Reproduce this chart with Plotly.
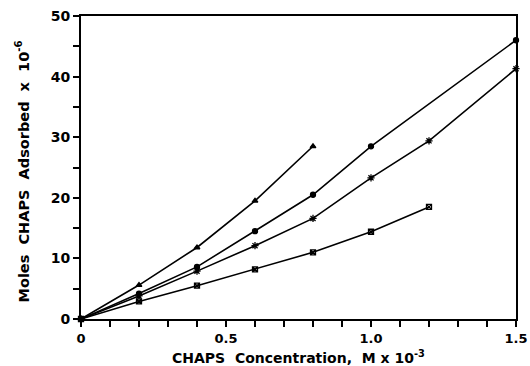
import plotly.graph_objects as go

tri_x = [0, 0.2, 0.4, 0.6, 0.8]
tri_y = [0, 5.6, 11.8, 19.5, 28.5]
cir_x = [0, 0.2, 0.4, 0.6, 0.8, 1.0, 1.5]
cir_y = [0, 4.2, 8.6, 14.5, 20.5, 28.5, 46.0]
plus_x = [0, 0.2, 0.4, 0.6, 0.8, 1.0, 1.2, 1.5]
plus_y = [0, 3.8, 7.9, 12.1, 16.6, 23.3, 29.4, 41.3]
sq_x = [0, 0.2, 0.4, 0.6, 0.8, 1.0, 1.2]
sq_y = [0, 2.9, 5.5, 8.2, 11.0, 14.4, 18.5]

x_tickvals = [0, 0.5, 1.0, 1.5]
x_ticktext = ["0", "0.5", "1.0", "1.5"]
y_tickvals = [0, 10, 20, 30, 40, 50]
y_ticktext = ["0", "10", "20", "30", "40", "50"]
x_title = "CHAPS  Concentration,  M x 10<sup>-3</sup>"
y_title = "Moles  CHAPS  Adsorbed  x  10<sup>-6</sup>"

fig = go.Figure()
series = [
    (tri_x, tri_y, "triangle-up", 5),
    (cir_x, cir_y, "circle", 5),
    (plus_x, plus_y, "asterisk-open", 6),
    (sq_x, sq_y, "square-x-open", 5),
]
for xs, ys, sym, sz in series:
    fig.add_trace(go.Scatter(
        x=xs, y=ys, mode="lines+markers",
        line=dict(color="black", width=1.6),
        marker=dict(symbol=sym, size=sz, color="black", line=dict(color="black", width=1.3)),
        cliponaxis=False, showlegend=False,
    ))

fam = "DejaVu Sans"
fig.update_layout(
    width=530, height=366,
    margin=dict(l=81, r=14, t=16, b=47),
    paper_bgcolor="white", plot_bgcolor="white",
    font=dict(family=fam, size=14, color="black"),
)
fig.update_xaxes(
    range=[0, 1.5], tickvals=x_tickvals, ticktext=x_ticktext, automargin=False,
    ticks="outside", ticklen=6, tickwidth=1.5, tickcolor="black",
    minor=dict(dtick=0.1, ticks="outside", ticklen=6, tickwidth=1.5, tickcolor="black", showgrid=False),
    showline=True, linecolor="black", linewidth=2, mirror=True,
    showgrid=False, zeroline=False,
    tickfont=dict(family=fam, size=13, color="black", weight="bold"),
)
fig.update_yaxes(
    range=[0, 50], tickvals=y_tickvals, ticktext=y_ticktext, automargin=False,
    ticks="outside", ticklen=6, tickwidth=1.5, tickcolor="black",
    minor=dict(dtick=5, ticks="outside", ticklen=6, tickwidth=1.5, tickcolor="black", showgrid=False),
    showline=True, linecolor="black", linewidth=2, mirror=True,
    showgrid=False, zeroline=False,
    tickfont=dict(family=fam, size=14, color="black", weight="bold"),
)
fig.add_annotation(
    text=x_title, xref="paper", yref="paper", x=0.5, y=0,
    xanchor="center", yanchor="middle", yshift=-38, showarrow=False,
    font=dict(family=fam, size=14, color="black", weight="bold"),
)
fig.add_annotation(
    text=y_title, xref="paper", yref="paper", x=0, y=0.5, textangle=-90,
    xanchor="center", yanchor="middle", xshift=-59, yshift=-4, showarrow=False,
    font=dict(family=fam, size=14.5, color="black", weight="bold"),
)
fig.write_html("out.html")
